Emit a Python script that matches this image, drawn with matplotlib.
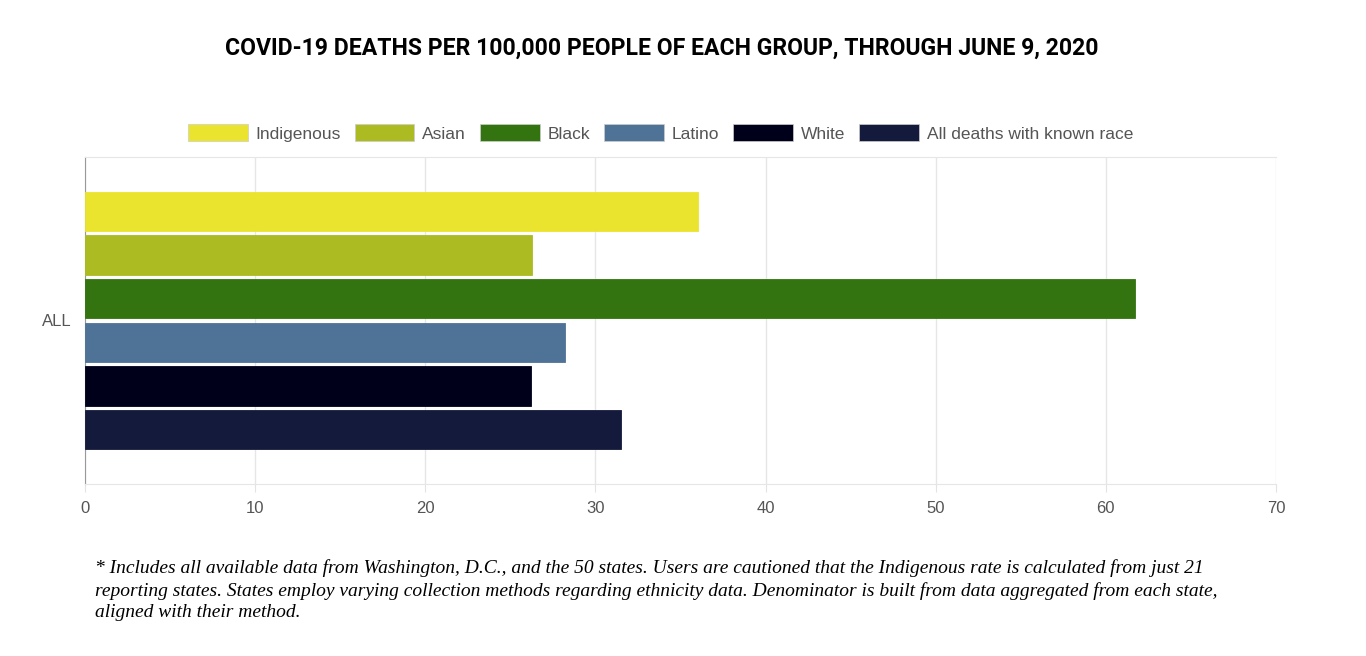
import numpy as np
import matplotlib.pyplot as plt
from matplotlib.patches import Patch

groups = ['Indigenous', 'Asian', 'Black', 'Latino', 'White', 'All deaths with known race']
rates = [36.0, 26.3, 61.7, 28.2, 26.2, 31.5]
colors = ['#ebe42f', '#adbb23', '#337410', '#4f7396', '#00001a', '#141a3c']
xticks = [0, 10, 20, 30, 40, 50, 60, 70]

title = 'COVID-19 DEATHS PER 100,000 PEOPLE OF EACH GROUP, THROUGH JUNE 9, 2020'
note = ('* Includes all available data from Washington, D.C., and the 50 states. Users are cautioned that the Indigenous rate is calculated from just 21\n'
        'reporting states. States employ varying collection methods regarding ethnicity data. Denominator is built from data aggregated from each state,\n'
        'aligned with their method.')

sans = ['Liberation Sans', 'DejaVu Sans']
fig = plt.figure(figsize=(13.66, 6.56), dpi=100)
ax = fig.add_axes([85/1366, 1-484/656, (1276-85)/1366, (484-157)/656])

y = np.arange(len(groups))
ax.barh(y, rates, height=0.9, color=colors, edgecolor=colors, linewidth=0.6, zorder=3)
ax.set_ylim(5.5 + 0.75, -1.25)
ax.set_xlim(0, 70)
ax.set_yticks([2.5])
ax.set_yticklabels(['ALL'], fontsize=12, color='#555555', family=sans)
ax.set_xticks(xticks)
ax.set_xticklabels([str(t) for t in xticks], fontsize=12, color='#555555', family=sans)
ax.tick_params(axis='y', length=0, pad=10)
ax.tick_params(axis='x', length=6, color='#e3e3e3', pad=6)
ax.grid(axis='x', color='#e6e6e6', linewidth=1, zorder=0)
for s in ['top', 'bottom']:
    ax.spines[s].set_color('#e6e6e6')
ax.spines['right'].set_visible(False)
ax.spines['left'].set_color('#999999')

fig.text(0.4843, 1-48/656, title, ha='center', va='center', fontsize=16.6,
         fontweight='bold', family=['Roboto', 'DejaVu Sans'])

handles = [Patch(facecolor=c, edgecolor='#cccccc', linewidth=0.5) for c in colors]
fig.legend(handles, groups, loc='center', bbox_to_anchor=(0.4835, 1-133/656), ncol=6,
           frameon=False, handlelength=3.45, handleheight=1.1, handletextpad=0.45,
           columnspacing=0.8, prop={'family': sans, 'size': 12.5})
for t in fig.legends[0].get_texts():
    t.set_color('#555555')

fig.text(95/1366, 1-559/656, note, ha='left', va='top', fontsize=14, style='italic',
         family=['Liberation Serif', 'DejaVu Serif'], linespacing=1.36)

plt.savefig('out.png', dpi=100)
